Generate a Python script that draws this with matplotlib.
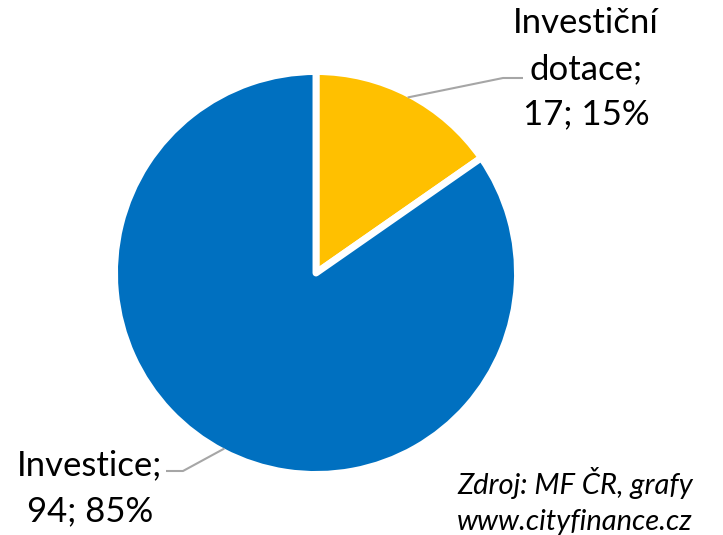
import numpy as np
import matplotlib.pyplot as plt

plt.rcParams['font.family'] = ['Lato', 'DejaVu Sans']

# data
categories = ['Investiční\ndotace', 'Investice']
values = [17, 94]
colors = ['#FFC000', '#0070C0']
source_lines = ['Zdroj: MF ČR, grafy', 'www.cityfinance.cz']

W, H = 723, 535
fig = plt.figure(figsize=(W / 100, H / 100), dpi=100)
ax = fig.add_axes([0, 0, 1, 1])

cx, cy, r = 316, H - 273, 201.5
wedges, _ = ax.pie(values, colors=colors, startangle=90, counterclock=False,
                   center=(cx, cy), radius=r, frame=True,
                   wedgeprops=dict(edgecolor='white', linewidth=5, joinstyle='round'))
ax.set_xlim(0, W)
ax.set_ylim(0, H)
ax.set_aspect('equal')
ax.axis('off')

total = sum(values)
# label block centers and leader-line elbows (pixel layout)
label_pos = [(586, H - 69), (90, H - 488)]
elbows = [[(503, H - 78), (523, H - 78)], [(183, H - 471), (166, H - 471)]]

for w, cat, v, (lx, ly), elb in zip(wedges, categories, values, label_pos, elbows):
    mid = np.deg2rad((w.theta1 + w.theta2) / 2)
    px = cx + (r - 3.5) * np.cos(mid)
    py = cy + (r - 3.5) * np.sin(mid)
    xs = [px] + [e[0] for e in elb]
    ys = [py] + [e[1] for e in elb]
    ax.plot(xs, ys, color='#A6A6A6', lw=1.5, solid_capstyle='butt')
    pct = round(v / total * 100)
    ax.text(lx, ly, f'{cat};\n{v}; {pct}%', ha='center', va='center',
            fontsize=25, linespacing=1.52, color='black')

ax.text(457, H - 483, source_lines[0], ha='left', va='center', fontsize=21,
        style='italic', color='black')
ax.text(457, H - 522, source_lines[1], ha='left', va='center', fontsize=21,
        style='italic', color='black')

fig.savefig('out.png', dpi=100)
